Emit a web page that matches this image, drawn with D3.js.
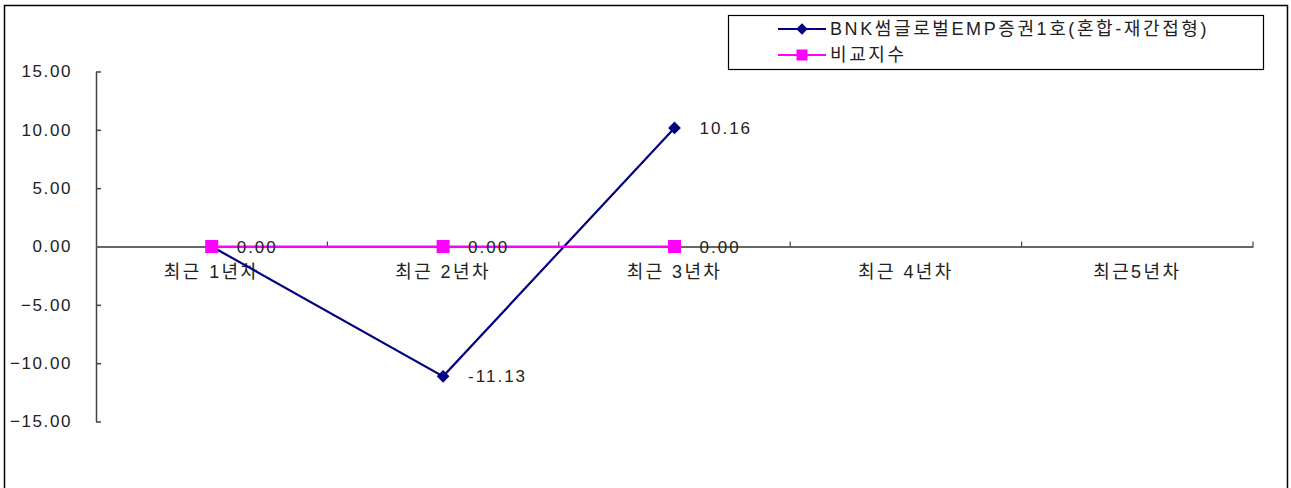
<!DOCTYPE html>
<html>
<head>
<meta charset="utf-8">
<script src="https://cdn.jsdelivr.net/npm/d3@7"></script>
<style>
  html, body { margin: 0; padding: 0; background: #fff; }
  svg text { font-family: "Liberation Sans", "Noto Sans CJK KR", sans-serif; fill: #222; }
</style>
</head>
<body>
<svg id="chart"></svg>
<script>
const categories = ["최근 1년차", "최근 2년차", "최근 3년차", "최근 4년차", "최근5년차"];
const fundName = "BNK썸글로벌EMP증권1호(혼합-재간접형)";
const benchName = "비교지수";
const fundValues = [0, -11.13, 10.16];
const benchValues = [0, 0, 0];
const yTicks = [-15, -10, -5, 0, 5, 10, 15];

const width = 1291, height = 488;
const margin = { top: 71.5, right: 38, bottom: 66.5, left: 96 };

const svg = d3.select("#chart")
    .attr("width", width)
    .attr("height", height);

// outer frame (bottom edge runs off the picture)
svg.append("rect")
    .attr("x", 4.5).attr("y", 5.5)
    .attr("width", 1283).attr("height", 520)
    .attr("fill", "#fff")
    .attr("stroke", "#000")
    .attr("stroke-width", 1.5);

const x = d3.scaleBand()
    .domain(categories)
    .range([margin.left, width - margin.right])
    .padding(0);

const y = d3.scaleLinear()
    .domain([-15, 15])
    .range([height - margin.bottom, margin.top]);

const cx = d => x(d) + x.bandwidth() / 2;

// y axis, ticks pointing inward
svg.append("g")
    .attr("transform", `translate(${margin.left},0)`)
    .call(d3.axisLeft(y).tickValues(yTicks).tickFormat(d3.format(".2f"))
        .tickSizeInner(-5).tickSizeOuter(0).tickPadding(24))
    .call(g => g.selectAll("path, line").attr("stroke", "#444").attr("stroke-width", 1.5))
    .call(g => g.selectAll("text")
        .style("font-size", "17px")
        .style("letter-spacing", "1.6px")
        .attr("fill", "#222"));

// x axis along zero, labels centred in each band
svg.append("g")
    .attr("transform", `translate(0,${y(0)})`)
    .call(d3.axisBottom(x).tickSize(0).tickPadding(19))
    .call(g => g.select(".domain").attr("stroke", "#666").attr("stroke-width", 2))
    .call(g => g.selectAll("text")
        .style("font-size", "18px")
        .style("letter-spacing", "2.4px")
        .attr("fill", "#222"));

// category boundary ticks, pointing up
const bounds = categories.slice(1).map(d => x(d)).concat([x.range()[1]]);
svg.append("g")
    .selectAll("line")
    .data(bounds)
    .join("line")
    .attr("x1", d => d).attr("x2", d => d)
    .attr("y1", y(0)).attr("y2", y(0) - 5)
    .attr("stroke", "#444")
    .attr("stroke-width", 1.2);

const fundPts = fundValues.map((v, i) => [categories[i], v]);
const benchPts = benchValues.map((v, i) => [categories[i], v]);

const line = d3.line().x(d => cx(d[0])).y(d => y(d[1]));

// fund series
svg.append("path")
    .datum(fundPts)
    .attr("d", line)
    .attr("fill", "none")
    .attr("stroke", "#000080")
    .attr("stroke-width", 2.2);

svg.append("g")
    .selectAll("rect")
    .data(fundPts)
    .join("rect")
    .attr("x", -4.5).attr("y", -4.5)
    .attr("width", 9).attr("height", 9)
    .attr("transform", d => `translate(${cx(d[0])},${y(d[1])}) rotate(45)`)
    .attr("fill", "#000080");

// benchmark series
svg.append("path")
    .datum(benchPts)
    .attr("d", line)
    .attr("fill", "none")
    .attr("stroke", "#ff00ff")
    .attr("stroke-width", 2.2);

svg.append("g")
    .selectAll("rect")
    .data(benchPts)
    .join("rect")
    .attr("x", d => cx(d[0]) - 6.5)
    .attr("y", d => y(d[1]) - 6.5)
    .attr("width", 13).attr("height", 13)
    .attr("fill", "#ff00ff");

// value labels
const labels = fundPts.slice(1).concat(benchPts);
svg.append("g")
    .selectAll("text")
    .data(labels)
    .join("text")
    .attr("x", d => cx(d[0]) + 25)
    .attr("y", d => y(d[1]))
    .attr("dy", "0.36em")
    .style("font-size", "17px")
    .style("letter-spacing", "2px")
    .text(d => d[1].toFixed(2));

// legend
const legend = svg.append("g");
legend.append("rect")
    .attr("x", 728.5).attr("y", 15.5)
    .attr("width", 535).attr("height", 54)
    .attr("fill", "#fff")
    .attr("stroke", "#000")
    .attr("stroke-width", 1.2);

const items = [
    { name: fundName, color: "#000080", shape: "diamond" },
    { name: benchName, color: "#ff00ff", shape: "square" }
];
const rows = legend.selectAll("g")
    .data(items)
    .join("g")
    .attr("transform", (d, i) => `translate(0,${29 + i * 26})`);
rows.append("line")
    .attr("x1", 778).attr("x2", 826)
    .attr("stroke", d => d.color)
    .attr("stroke-width", 2.2);
rows.append("rect")
    .attr("x", d => d.shape === "diamond" ? -4 : -5.5)
    .attr("y", d => d.shape === "diamond" ? -4 : -5.5)
    .attr("width", d => d.shape === "diamond" ? 8 : 11)
    .attr("height", d => d.shape === "diamond" ? 8 : 11)
    .attr("transform", d => d.shape === "diamond" ? "translate(802,0) rotate(45)" : "translate(802,0)")
    .attr("fill", d => d.color);
rows.append("text")
    .attr("x", 830)
    .attr("dy", "0.36em")
    .style("font-size", "18px")
    .style("letter-spacing", "2.6px")
    .text(d => d.name);
</script>
</body>
</html>
